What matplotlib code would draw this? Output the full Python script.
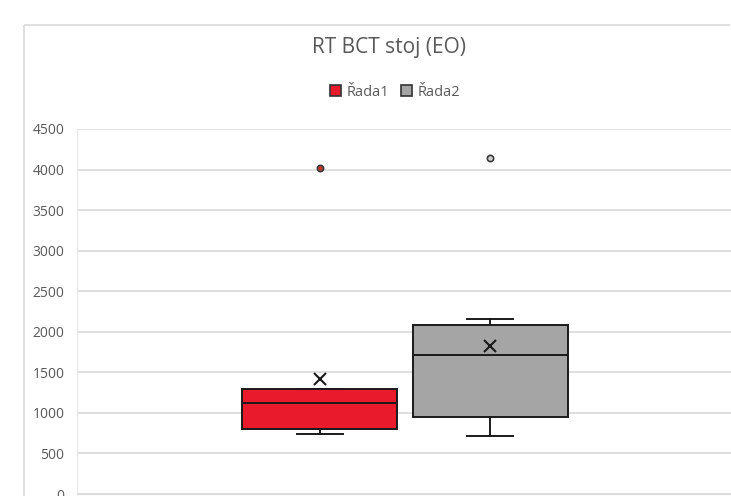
import matplotlib
matplotlib.use("Agg")
import matplotlib.pyplot as plt
from matplotlib.lines import Line2D
from matplotlib.patches import Patch

# box plot statistics
series = ["Řada1", "Řada2"]
colors = ["#E81A2B", "#A5A5A5"]
flier_faces = ["#C0392B", "#D0D0D0"]
medians = [1117, 1712]
q1s = [805, 953]
q3s = [1290, 2082]
whis_lo = [739, 714]
whis_hi = [1297, 2156]
means = [1413, 1823]
outliers = [[4025], [4148]]
yticks = list(range(0, 4501, 500))

plt.rcParams["font.family"] = ["Open Sans", "DejaVu Sans"]
W, H = 731, 496
fig = plt.figure(figsize=(W / 100, H / 100), dpi=100)

# chart area border: only the top and left edges fall inside the picture
x0, y0 = 24 / W, 1 - 25 / H
fig.lines.append(Line2D([x0, 1 - 1.5 / W], [y0, y0], transform=fig.transFigure,
                        color="#d9d9d9", lw=1.2, solid_capstyle="butt"))
fig.lines.append(Line2D([x0, x0], [0, y0], transform=fig.transFigure,
                        color="#d9d9d9", lw=1.2, solid_capstyle="butt"))

# plot area runs a couple of pixels past the right edge, as in the source
ax = fig.add_axes([77 / W, 1 - 494 / H, (733 - 77) / W, (494 - 129) / H])

stats = []
for i in range(len(series)):
    stats.append(dict(med=medians[i], q1=q1s[i], q3=q3s[i],
                      whislo=whis_lo[i], whishi=whis_hi[i],
                      mean=means[i], fliers=outliers[i], label=series[i]))

positions = [0.37, 0.63]
bp = ax.bxp(stats, positions=positions, widths=0.236, patch_artist=True,
            showmeans=True, showfliers=True, manage_ticks=False,
            capwidths=0.07,
            boxprops=dict(edgecolor="#1a1a1a", linewidth=1.4),
            medianprops=dict(color="#1a1a1a", linewidth=1.4),
            whiskerprops=dict(color="#1a1a1a", linewidth=1.4),
            capprops=dict(color="#1a1a1a", linewidth=1.4),
            meanprops=dict(marker="x", markeredgecolor="#1a1a1a",
                           markersize=8, markeredgewidth=1.5))
for patch, c in zip(bp["boxes"], colors):
    patch.set_facecolor(c)
    patch.set_zorder(3)
for art in bp["medians"] + bp["means"]:
    art.set_zorder(4)
for fl, fc in zip(bp["fliers"], flier_faces):
    fl.set_marker("o")
    fl.set_markersize(4.5)
    fl.set_markerfacecolor(fc)
    fl.set_markeredgecolor("#3a3a3a")
    fl.set_markeredgewidth(1.2)

ax.set_xlim(0, 1)
ax.set_ylim(0, 4500)
ax.set_yticks(yticks)
ax.set_xticks([])
ax.yaxis.grid(True, color="#d9d9d9", linewidth=1.2)
ax.set_axisbelow(True)
ax.patch.set_visible(False)
for s in ["top", "right"]:
    ax.spines[s].set_visible(False)
ax.spines["left"].set_color("#e6e6e6")
ax.spines["bottom"].set_color("#d9d9d9")
ax.tick_params(axis="y", length=0, pad=9, labelsize=10, labelcolor="#595959")

fig.text(389 / W, 1 - 48 / H, "RT BCT stoj (EO)", ha="center", va="center",
         fontsize=15, color="#595959")

handles = [Patch(facecolor=c, edgecolor="#333333", linewidth=1.2) for c in colors]
fig.legend(handles, series, loc="center", bbox_to_anchor=(395 / W, 1 - 92 / H),
           ncol=2, frameon=False, fontsize=10.5, labelcolor="#595959",
           handlelength=0.75, handleheight=0.75, handletextpad=0.4,
           columnspacing=0.8)

fig.savefig("out.png", dpi=100)
